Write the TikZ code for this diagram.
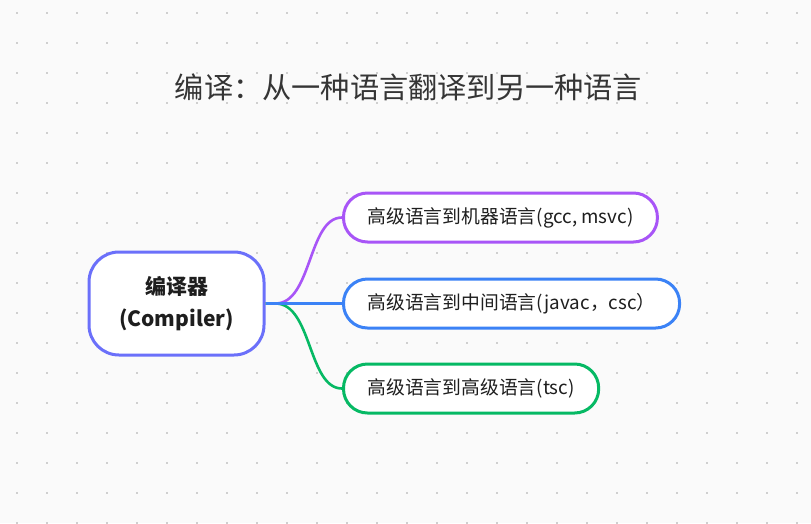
\documentclass[tikz,border=0pt]{standalone}
\usepackage{fontspec}
\setmainfont{Noto Sans CJK SC}
\newfontfamily\cjk{Noto Sans CJK SC}
\definecolor{bgc}{HTML}{FAFAFA}
\definecolor{dotc}{HTML}{CFCFCF}
\definecolor{rootc}{HTML}{6B70FA}
\definecolor{purp}{HTML}{A855F7}
\definecolor{blu}{HTML}{3B82F6}
\definecolor{grn}{HTML}{06B964}
\definecolor{txt}{HTML}{1E1E1E}
\tikzset{
  rootbox/.style={draw=rootc, line width=3pt, fill=white, rounded corners=30pt,
    minimum width=175pt, minimum height=103pt, align=center, text=txt,
    font=\cjk\bfseries\fontsize{21}{32}\selectfont},
  leafbox/.style={draw=#1, line width=3pt, fill=white, rounded corners=24pt,
    minimum height=49pt, inner xsep=24pt, anchor=west, text=txt,
    font=\cjk\fontsize{18.8}{22}\selectfont},
  link/.style={draw=#1, line width=2.6pt},
  titletext/.style={text=txt!90, font=\cjk\fontsize{29.2}{34}\selectfont}
}
\begin{document}
\begin{tikzpicture}[x=1pt,y=-1pt]
\fill[bgc] (0,0) rectangle (811,523);
\useasboundingbox (0,0) rectangle (811,523);
\foreach \i in {0,...,26}{
  \foreach \j in {0,...,17}{
    \fill[dotc] ({17+30*\i-1},{13+30*\j-1}) rectangle ++(2,2);
  }
}
\node[titletext] (title) at (408.5,87) {编译：从一种语言翻译到另一种语言};
\node[rootbox] (root) at (176.5,303.5) {编译器\\(Compiler)};
\node[leafbox=purp] (a) at (342,217.5) {高级语言到机器语言(gcc, msvc)};
\node[leafbox=blu] (b) at (342,303.5) {高级语言到中间语言(javac，csc）};
\node[leafbox=grn] (c) at (342,388.5) {高级语言到高级语言(tsc)};
\draw[link=purp] (root.east) -- ++(10,0) .. controls (312,303.5) and (308,217.5) .. (a.west);
\draw[link=grn] (root.east) -- ++(10,0) .. controls (312,303.5) and (308,388.5) .. (c.west);
\draw[link=blu] (root.east) -- (b.west);
\end{tikzpicture}
\end{document}
